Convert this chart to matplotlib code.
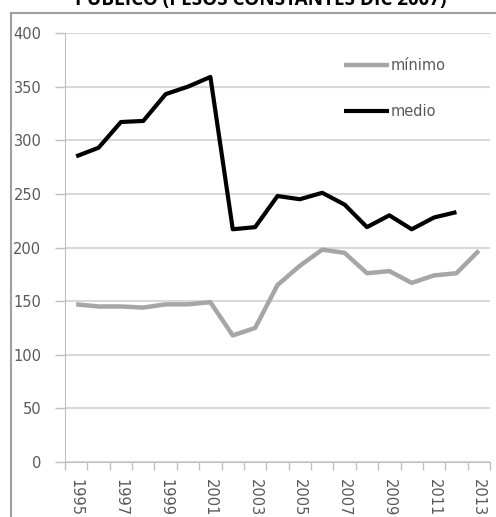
import numpy as np
import matplotlib.pyplot as plt
from matplotlib.lines import Line2D

# datos
anios = list(range(1995, 2014))
minimo = [147, 145, 145, 144, 147, 147, 149, 118, 125, 165, 183, 198, 195, 176, 178, 167, 174, 176, 197]
medio = [285, 293, 317, 318, 343, 350, 359, 217, 219, 248, 245, 251, 240, 219, 230, 217, 228, 233]
titulo = 'PÚBLICO (PESOS CONSTANTES DIC 2007)'

plt.rcParams['font.family'] = ['DejaVu Sans']

fig = plt.figure(figsize=(4.96, 5.17), dpi=100)
ax = fig.add_axes([65 / 496, 1 - 462 / 517, 425 / 496, 429 / 517])

x_min = np.arange(len(minimo))
x_med = np.arange(len(medio))
ax.plot(x_min, minimo, color='#a6a6a6', lw=3.2, label='mínimo', solid_capstyle='butt')
ax.plot(x_med, medio, color='black', lw=3.0, label='medio', solid_capstyle='butt')

ax.set_xlim(-0.5, len(anios) - 0.5)
ax.set_ylim(0, 400)
ax.set_yticks(range(0, 401, 50))
ax.yaxis.grid(True, color='#d9d9d9', lw=1.5)
ax.set_axisbelow(True)
ax.tick_params(axis='y', colors='#bfbfbf', length=7, width=1, labelcolor='#595959',
               labelsize=10.5, pad=10)

# etiquetas cada dos anios, marcas entre categorias
ax.set_xticks(x_min[::2])
ax.set_xticklabels([str(a) for a in anios[::2]], rotation=-90, color='#595959', fontsize=10.5)
ax.tick_params(axis='x', length=0, pad=12)
ax.set_xticks(np.arange(-0.5, len(anios)), minor=True)
ax.tick_params(axis='x', which='minor', length=6, color='#bfbfbf', width=1)

for s in ['top', 'right']:
    ax.spines[s].set_visible(False)
ax.spines['left'].set_color('#bfbfbf')
ax.spines['bottom'].set_color('#bfbfbf')

leg = ax.legend(loc='upper left', bbox_to_anchor=(331 / 496, 1 - 45 / 517),
                bbox_transform=fig.transFigure, frameon=False, fontsize=10.5,
                handlelength=3.1, handletextpad=0.1, labelspacing=2.1)
for t in leg.get_texts():
    t.set_color('#595959')

# marco del grafico y titulo recortado
fig.add_artist(Line2D([11 / 496, 11 / 496], [0, 1 - 13 / 517], color='#a0a0a0', lw=1.5,
                      transform=fig.transFigure))
fig.add_artist(Line2D([11 / 496, 1], [1 - 13 / 517, 1 - 13 / 517], color='#a0a0a0', lw=1.5,
                      transform=fig.transFigure))
fig.text(261 / 496, 1 - 5.5 / 517, titulo, ha='center', va='baseline', fontsize=13.6,
         fontweight='bold', family='Open Sans')

fig.savefig('out.png', dpi=100)
